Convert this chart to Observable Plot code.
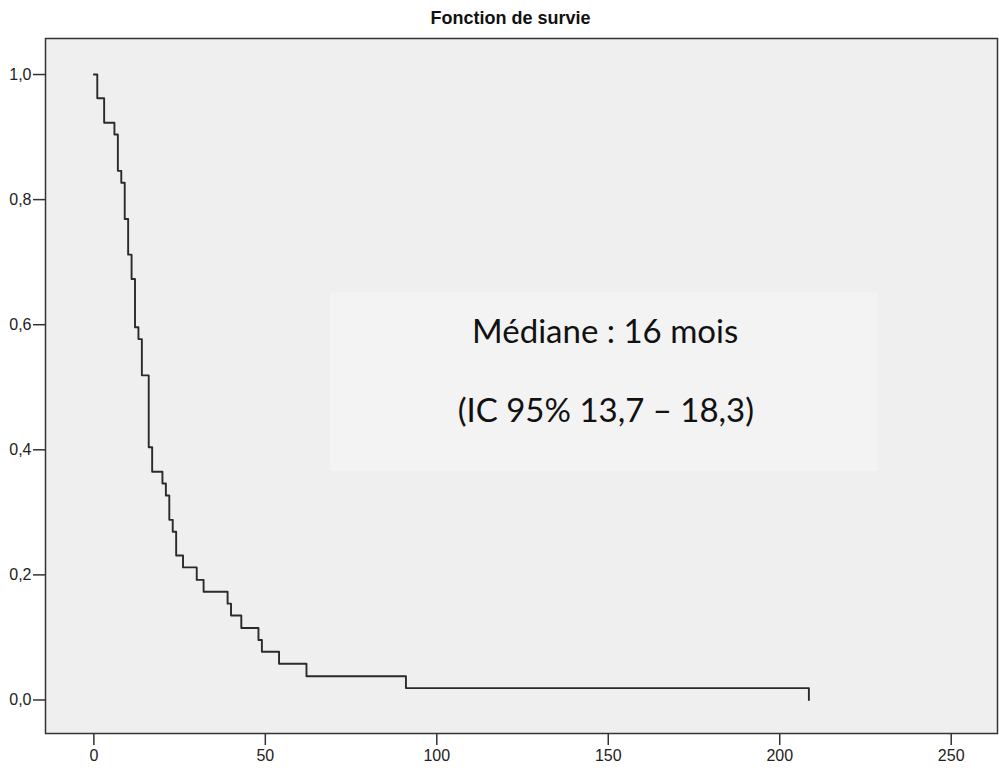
<!DOCTYPE html>
<html>
<head>
<meta charset="utf-8">
<script src="https://cdn.jsdelivr.net/npm/d3@7"></script>
<script src="https://cdn.jsdelivr.net/npm/@observablehq/plot@0.6"></script>
<style>
  html, body { margin: 0; padding: 0; background: #ffffff; }
  #title { height: 37px; width: 999px; text-align: center; font-family: "Liberation Sans", Arial, sans-serif; font-weight: bold; font-size: 18px; line-height: 37px; color: #111; box-sizing: border-box; padding-left: 22px; }
  #chart svg { display: block; }
</style>
</head>
<body>
<div id="title">Fonction de survie</div>
<div id="chart"></div>
<script>
// Kaplan-Meier step points (time in months, survival proportion)
const times = [0, 1, 3, 6, 7, 8, 9, 10, 11, 12, 13, 14, 16, 17, 20, 21, 22, 23, 24, 26, 30, 32, 39, 40, 43, 48, 49, 54, 62, 91, 208.5];
const survival = [1, 0.962, 0.923, 0.904, 0.846, 0.827, 0.769, 0.712, 0.673, 0.596, 0.577, 0.519, 0.404, 0.365, 0.346, 0.327, 0.288, 0.269, 0.231, 0.212, 0.192, 0.173, 0.154, 0.135, 0.115, 0.096, 0.077, 0.058, 0.038, 0.019, 0];
const xTicks = [0, 50, 100, 150, 200, 250];
const yTicks = [0, 0.2, 0.4, 0.6, 0.8, 1.0];
const annotation = ["Médiane : 16 mois", "(IC 95% 13,7 – 18,3)"];

const points = times.map((t, i) => ({t, s: survival[i]}));

const chart = Plot.plot({
  width: 999,
  height: 734,
  marginLeft: 45,
  marginRight: 2,
  marginTop: 1,
  marginBottom: 38,
  style: {background: "#ffffff", fontFamily: "Liberation Sans, Arial, sans-serif", fontSize: "16px", color: "#222"},
  x: {domain: [-14.1, 263.5]},
  y: {domain: [-0.0536, 1.0576]},
  marks: [
    Plot.frame({fill: "#EFEFEF", stroke: null}),
    Plot.rect([annotation], {x1: () => 69, x2: () => 228.7, y1: () => 0.366, y2: () => 0.651, fill: "#F3F3F3"}),
    Plot.text([annotation[0]], {x: () => 149.1, y: () => 0.587, text: d => d, fontFamily: "Lato, sans-serif", fontSize: 33, fill: "#111"}),
    Plot.text([annotation[1]], {x: () => 149.3, y: () => 0.462, text: d => d, fontFamily: "Lato, sans-serif", fontSize: 33, fill: "#111"}),
    Plot.line(points, {x: "t", y: "s", curve: "step-after", stroke: "#2a2a2a", strokeWidth: 1.9}),
    Plot.axisX({ticks: xTicks, tickSize: 12, tickPadding: 4, label: null, fontSize: 16, tickFormat: d => String(d), stroke: "#333", strokeWidth: 1.5}),
    Plot.axisY({ticks: yTicks, tickSize: 12, tickPadding: 2, label: null, fontSize: 16, tickFormat: d => d.toFixed(1).replace(".", ","), stroke: "#333", strokeWidth: 1.5}),
    Plot.frame({stroke: "#333", strokeWidth: 1.5})
  ]
});
document.getElementById("chart").appendChild(chart);
</script>
</body>
</html>
